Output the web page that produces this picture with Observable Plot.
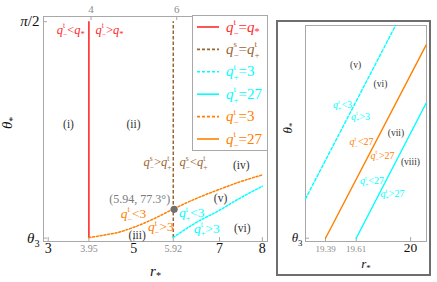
<!DOCTYPE html>
<html><head><meta charset="utf-8">
<script src="https://cdn.jsdelivr.net/npm/d3@7"></script>
<script src="https://cdn.jsdelivr.net/npm/@observablehq/plot@0.6"></script>
<style>
body{margin:0;background:#fff;}
#wrap{position:relative;width:437px;height:282px;overflow:hidden;background:#fff;font-family:"Liberation Serif",serif;}
#wrap svg{position:absolute;}
#wrap svg text{font-family:"Liberation Serif",serif;}
#insetBox{position:absolute;left:276px;top:20px;width:155px;height:256px;border:2px solid #6e6e6e;box-sizing:border-box;}
</style></head><body><div id="wrap"><div id="insetBox"></div></div>
<script>
// ---------------- data ----------------
const theta3 = 75.35;            // θ3 in degrees
const halfPi = 90;               // π/2 in degrees
const rStarBound = 3.95;         // q^t_- = q_*
const rSplusBound = 5.92;        // q^s_- = q^t_+
// q^t_- = 3 (orange dotted)
const qm3R     = [3.95, 4.34, 4.65, 5.04, 5.43, 5.93, 6.44, 6.99, 7.45, 8.0];
const qm3Theta = [75.38, 75.57, 75.75, 76.13, 76.61, 77.33, 78.01, 78.64, 79.13, 79.63];
// q^t_+ = 3 (cyan dotted)
const qp3R     = [5.92, 6.44, 6.99, 7.45, 8.0];
const qp3Theta = [75.4, 76.38, 77.22, 78.01, 78.86];
const critR = [5.94], critTheta = [77.3];
const critLabel = ["(5.94, 77.3°)"];
// tick values
const rTicksBottom = [3, 5, 7, 8];
const rMarks = [3.95, 5.92];
const rTicksTop = [4, 6];
const thetaTicks = [theta3, halfPi];
const thetaTickLabels = ["θ_{3}", "π/2"];
// main-panel annotations
const regionText = ["(i)", "(ii)", "(iii)", "(iv)", "(v)", "(vi)"];
const regionR    = [3.474, 4.991, 5.078, 7.506, 7.023, 7.529];
const regionTh   = [83.04, 83.04, 75.57, 80.26, 78.01, 76.02];
const redText = ["q^{t}_{−}<q_{*}", "q^{t}_{−}>q_{*}"];
const redR = [3.527, 4.43], redTh = [89.45, 89.45];
const brownText = ["q^{s}_{−}>q^{t}_{+}", "q^{s}_{−}<q^{t}_{+}"];
const brownR = [5.552, 6.392], brownTh = [80.47, 80.47];
const orangeText = ["q^{t}_{−}<3", "q^{t}_{−}>3"];
const orangeR = [4.991, 5.629], orangeTh = [77.0, 76.09];
const cyanText = ["q^{t}_{+}<3", "q^{t}_{+}>3"];
const cyanR = [6.352, 6.703], cyanTh = [77.04, 76.02];
// inset panel
const inQm27R = [19.39, 20.112], inQm27Theta = [theta3, 89.03];
const inQp27R = [19.61, 20.112], inQp27Theta = [theta3, 84.92];
const inQp3R  = [19.2466, 19.892], inQp3Theta = [78.14, 90.4];
const inTicksGray = [19.39, 19.61];
const inTicksBlack = [20];
const inRegionText = ["(v)", "(vi)", "(vii)", "(viii)"];
const inRegionR  = [19.605, 19.784, 19.895, 19.999];
const inRegionTh = [87.62, 86.23, 82.83, 80.73];
const inCyanText = ["q^{t}_{+}<3", "q^{t}_{+}>3", "q^{t}_{+}<27", "q^{t}_{+}>27"];
const inCyanR  = [19.512, 19.641, 19.723, 19.870];
const inCyanTh = [84.76, 83.96, 79.40, 78.49];
const inOrangeText = ["q^{t}_{−}<27", "q^{t}_{−}>27"];
const inOrangeR  = [19.648, 19.799];
const inOrangeTh = [82.14, 81.20];
// legend
const legendLabels = ["q^{t}_{−}=q_{*}", "q^{s}_{−}=q^{t}_{+}", "q^{t}_{+}=3", "q^{t}_{+}=27", "q^{t}_{−}=3", "q^{t}_{−}=27"];

// ---------------- styles ----------------
const RED = "#ff2a2a", BROWN = "#996633", CYAN = "#00ffff", ORANGE = "#ff8000";
const FRAME = "#a8a8a8", GRAYTXT = "#8c8c8c", DARK = "#333";
const SERIF = '"Liberation Serif", serif';
const legendStyles = [
  {c: RED, d: null}, {c: BROWN, d: "3,2"}, {c: CYAN, d: "3,2"},
  {c: CYAN, d: null}, {c: ORANGE, d: "3,2"}, {c: ORANGE, d: null}
];
const idx = a => a.map((_, i) => i);

// ---------------- main plot ----------------
const W = 276, H = 282, mL = 43, mR = 9, mT = 16, mB = 41;
const innerH = H - mT - mB, innerW = W - mL - mR, TK = 4;
const labelMarks = (txt, R, Th, color, size) =>
  Plot.text(idx(txt), {x: i => R[i], y: i => Th[i], text: i => txt[i], fill: color, fontSize: size, fontFamily: SERIF});

const main = Plot.plot({
  width: W, height: H, marginLeft: mL, marginRight: mR, marginTop: mT, marginBottom: mB,
  x: {domain: [2.89, 8.12], axis: null},
  y: {domain: [75.12, 90.35], axis: null},
  style: "background: transparent; overflow: visible; font-family: 'Liberation Serif', serif;",
  marks: [
    Plot.frame({stroke: FRAME}),
    Plot.tickX(rTicksBottom.concat(rMarks), {x: d => d, stroke: FRAME, insetTop: innerH - TK}),
    Plot.tickX(rTicksTop, {x: d => d, stroke: FRAME, insetBottom: innerH - TK}),
    Plot.tickY(thetaTicks, {y: d => d, stroke: FRAME, insetRight: innerW - TK}),
    Plot.text(rTicksBottom, {x: d => d, frameAnchor: "bottom", dy: 11, text: d => String(d), fontSize: 14, fill: "#111", fontFamily: SERIF}),
    Plot.text(rMarks, {x: d => d, frameAnchor: "bottom", dy: 10, text: d => d.toFixed(2), fontSize: 10, fill: GRAYTXT, fontFamily: SERIF}),
    Plot.text(rTicksTop, {x: d => d, frameAnchor: "top", dy: -11, text: d => String(d), fontSize: 11, fill: GRAYTXT, fontFamily: SERIF}),
    Plot.text(idx(thetaTicks), {y: i => thetaTicks[i], frameAnchor: "left", dx: -4, textAnchor: "end", text: i => thetaTickLabels[i], fontSize: 15, fill: "#111", fontFamily: SERIF}),
    Plot.text(["r_{*}"], {frameAnchor: "bottom", dy: 34, text: d => d, fontSize: 15, fill: "#111", fontFamily: SERIF}),
    Plot.text(["θ_{*}"], {frameAnchor: "left", dx: -36, rotate: -90, text: d => d, fontSize: 15, fill: "#111", fontFamily: SERIF}),
    Plot.ruleX([rStarBound], {y1: theta3, y2: halfPi, stroke: RED, strokeWidth: 1.6}),
    Plot.ruleX([rSplusBound], {y1: theta3, y2: halfPi, stroke: BROWN, strokeWidth: 1.5, strokeDasharray: "3.5,2"}),
    Plot.line(idx(qm3R), {x: i => qm3R[i], y: i => qm3Theta[i], curve: "monotone-x", stroke: ORANGE, strokeWidth: 1.5, strokeDasharray: "2,1.8"}),
    Plot.line(idx(qp3R), {x: i => qp3R[i], y: i => qp3Theta[i], curve: "monotone-x", stroke: CYAN, strokeWidth: 1.5, strokeDasharray: "2,1.8"}),
    Plot.dot(idx(critR), {x: i => critR[i], y: i => critTheta[i], r: 3.6, fill: "#707070"}),
    Plot.text(idx(critR), {x: i => critR[i], y: i => critTheta[i], text: i => critLabel[i], textAnchor: "end", dx: -4, dy: -10, fontSize: 12, fill: "#7a7a7a", fontFamily: SERIF}),
    Plot.text(idx(regionText), {x: i => regionR[i], y: i => regionTh[i], text: i => regionText[i], fill: DARK, fontSize: 11.5, fontFamily: SERIF}),
    labelMarks(redText, redR, redTh, RED, 12.5),
    labelMarks(brownText, brownR, brownTh, BROWN, 12.5),
    labelMarks(orangeText, orangeR, orangeTh, ORANGE, 13.5),
    labelMarks(cyanText, cyanR, cyanTh, CYAN, 13.5)
  ]
});
main.style.left = "0px"; main.style.top = "0px";

// ---------------- inset plot ----------------
const iW = 152, iH = 253, iL = 28, iR = 3, iT = 4, iB = 33;
const iInnerH = iH - iT - iB, iInnerW = iW - iL - iR;
const inset = Plot.plot({
  width: iW, height: iH, marginLeft: iL, marginRight: iR, marginTop: iT, marginBottom: iB,
  x: {domain: [19.2466, 20.114], axis: null},
  y: {domain: [75.12, 90.4], axis: null},
  style: "background: transparent; overflow: visible; font-family: 'Liberation Serif', serif;",
  marks: [
    Plot.frame({stroke: FRAME}),
    Plot.tickX(inTicksGray.concat(inTicksBlack), {x: d => d, stroke: FRAME, insetTop: iInnerH - TK}),
    Plot.tickY([theta3], {y: d => d, stroke: FRAME, insetRight: iInnerW - TK}),
    Plot.text(inTicksGray, {x: d => d, frameAnchor: "bottom", dy: 10, text: d => d.toFixed(2), fontSize: 9, fill: GRAYTXT, fontFamily: SERIF}),
    Plot.text(inTicksBlack, {x: d => d, frameAnchor: "bottom", dy: 10, text: d => String(d), fontSize: 13.5, fill: "#111", fontFamily: SERIF}),
    Plot.text([theta3], {y: d => d, frameAnchor: "left", dx: -3, textAnchor: "end", text: () => "θ_{3}", fontSize: 13, fill: "#111", fontFamily: SERIF}),
    Plot.text(["r_{*}"], {frameAnchor: "bottom", dy: 26, text: d => d, fontSize: 13, fill: "#111", fontFamily: SERIF}),
    Plot.text(["θ_{*}"], {frameAnchor: "left", dx: -18, rotate: -90, text: d => d, fontSize: 13, fill: "#111", fontFamily: SERIF}),
    Plot.line(idx(inQp3R), {x: i => inQp3R[i], y: i => inQp3Theta[i], stroke: CYAN, strokeWidth: 1.4, strokeDasharray: "3,2"}),
    Plot.line(idx(inQm27R), {x: i => inQm27R[i], y: i => inQm27Theta[i], stroke: ORANGE, strokeWidth: 1.4}),
    Plot.line(idx(inQp27R), {x: i => inQp27R[i], y: i => inQp27Theta[i], stroke: CYAN, strokeWidth: 1.4}),
    Plot.text(idx(inRegionText), {x: i => inRegionR[i], y: i => inRegionTh[i], text: i => inRegionText[i], fill: DARK, fontSize: 9.5, fontFamily: SERIF}),
    labelMarks(inCyanText, inCyanR, inCyanTh, CYAN, 10),
    labelMarks(inOrangeText, inOrangeR, inOrangeTh, ORANGE, 10)
  ]
});
inset.style.left = "277px"; inset.style.top = "21px";

// ---------------- legend ----------------
const legend = d3.create("svg").attr("width", 76).attr("height", 136)
  .style("left", "192px").style("top", "15px").style("font-family", SERIF);
legend.append("rect").attr("x", 0.5).attr("y", 0.5).attr("width", 75).attr("height", 135)
  .attr("fill", "#fff").attr("stroke", FRAME);
legendLabels.forEach((lab, i) => {
  const yy = 12 + i * 22.4;
  const s = legendStyles[i];
  legend.append("line").attr("x1", 5).attr("x2", 27).attr("y1", yy).attr("y2", yy)
    .attr("stroke", s.c).attr("stroke-width", 1.6).attr("stroke-dasharray", s.d);
  legend.append("text").attr("x", 34).attr("y", yy + 4.5).attr("font-size", 15)
    .attr("font-family", SERIF).attr("fill", s.c).text(lab);
});

const wrap = document.getElementById("wrap");
wrap.appendChild(main);
wrap.appendChild(legend.node());
wrap.appendChild(inset);

// ---------------- rich text (super/subscripts, italic variables) ----------------
function richify(svg) {
  const NS = "http://www.w3.org/2000/svg";
  for (const t of svg.querySelectorAll("text")) {
    t.setAttribute("font-family", SERIF);
    t.style.fontFamily = SERIF;
    const s = t.textContent;
    if (!s || s.startsWith("(") || !/[\^_A-Za-zθπ]/.test(s)) continue;
    const fs = parseFloat(getComputedStyle(t).fontSize) || 12;
    while (t.firstChild) t.removeChild(t.firstChild);
    let cur = 0, lastSup = null;
    const add = (txt, off, size, italic, dx) => {
      const sp = document.createElementNS(NS, "tspan");
      sp.textContent = txt;
      if (off !== cur) sp.setAttribute("dy", (off - cur).toFixed(2));
      cur = off;
      if (size) sp.setAttribute("font-size", size.toFixed(2));
      if (italic) sp.setAttribute("font-style", "italic");
      if (dx) sp.setAttribute("dx", dx.toFixed(2));
      t.appendChild(sp);
      return sp;
    };
    const re = /\^\{([^}]*)\}|_\{([^}]*)\}|([^\^_]+)/g;
    let m;
    while ((m = re.exec(s))) {
      if (m[1] !== undefined) {
        lastSup = add(m[1], -0.43 * fs, 0.6 * fs, false, 0);
      } else if (m[2] !== undefined) {
        if (lastSup) {
          add(m[2], 0.27 * fs, 0.6 * fs, false, -lastSup.getComputedTextLength());
        } else {
          add(m[2], 0.24 * fs, 0.68 * fs, false, 0);
        }
        lastSup = null;
      } else {
        for (const run of m[3].match(/[A-Za-zθπ]+|[^A-Za-zθπ]+/g))
          add(run, 0, null, /[A-Za-zθπ]/.test(run), 0);
        lastSup = null;
      }
    }
  }
}
richify(main); richify(inset); richify(legend.node());
</script></body></html>
